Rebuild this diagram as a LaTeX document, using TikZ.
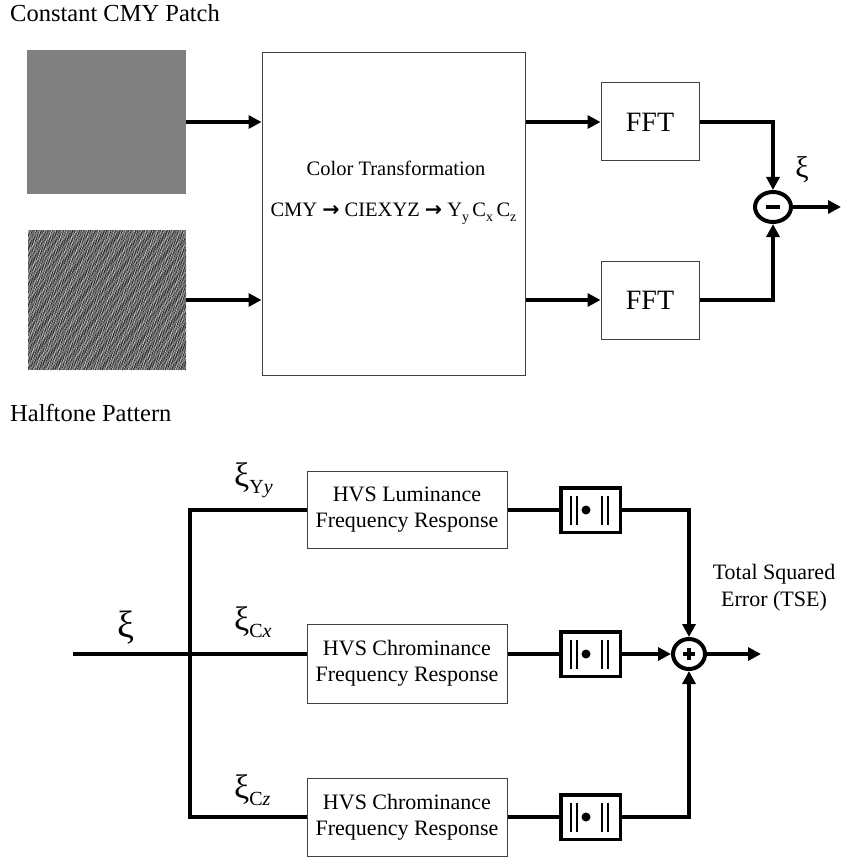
\documentclass[tikz,border=0pt]{standalone}
\usepackage{fontspec}
\setmainfont{Liberation Serif}
\newfontfamily\arrfont{DejaVu Sans}
\usetikzlibrary{arrows.meta,shapes.geometric}
\newcommand{\myfs}[1]{\fontsize{#1}{#1}\selectfont}
\newcommand{\mysub}[1]{\raisebox{-7pt}{\myfs{20}#1}}
\newcommand{\smsub}[1]{\raisebox{-5pt}{\myfs{14}#1}}
\definecolor{patchgray}{RGB}{128,128,128}
\definecolor{halfgray}{RGB}{120,120,120}
\tikzset{
  thickline/.style={line width=4pt, line join=miter},
  arr/.style={line width=4pt, line join=miter, -{Triangle[length=13pt,width=13pt]}},
  thinbox/.style={draw=black!75, line width=1pt, inner sep=0pt, align=center},
  hvsbox/.style={thinbox, minimum width=200pt, font=\fontsize{22}{26}\selectfont},
  normbox/.style={draw, line width=3.5pt, minimum width=59.5pt, minimum height=44.5pt, inner sep=0pt},
  sumnode/.style={ellipse, draw, line width=4pt, inner sep=0pt},
  lbl/.style={inner sep=0pt},
}
\begin{document}
\begin{tikzpicture}[x=1pt,y=-1pt]
\useasboundingbox (0,0) rectangle (845,861);

% ---------- top part ----------
\node[lbl, anchor=base west] (title1) at (10,22) {\myfs{24.5}Constant CMY Patch};
\node[lbl, anchor=base west] (title2) at (10,421) {\myfs{24.5}Halftone Pattern};

\node[fill=patchgray, minimum width=159pt, minimum height=144pt, inner sep=0pt] (patch) at (106.5,122) {};
\node[fill=halfgray, minimum width=158pt, minimum height=140pt, inner sep=0pt] (half) at (107,300) {};
\begin{scope}
  \clip (28,230) rectangle (186,370);
  \foreach \i in {0,...,110} {
    \draw[black!85, line width=0.7pt, dash pattern=on 3pt off 1.5pt on 1.5pt off 2pt on 5pt off 2pt, dash phase=\i*1.7pt]
      (-16+\i*1.8,230) -- ++(36,140);
    \draw[white!70!gray, line width=0.5pt, dash pattern=on 2pt off 3pt on 1pt off 4pt on 3pt off 2pt, dash phase=\i*2.3pt]
      (-15.1+\i*1.8,230) -- ++(36,140);
  }
\end{scope}

\node[thinbox, minimum width=263pt, minimum height=322pt] (ct) at (393.5,214) {};
\node[lbl] (ct1) at (396,168) {\myfs{20.5}Color Transformation};
\node[lbl] (ct2) at (393.5,214) {\myfs{20.5}CMY {\arrfont\bfseries →} CIEXYZ {\arrfont\bfseries →} Y\smsub{y}\,C\smsub{x}\,C\smsub{z}};

\node[thinbox, minimum width=98pt, minimum height=78pt] (fft1) at (650,122) {\myfs{28}FFT};
\node[thinbox, minimum width=98pt, minimum height=78pt] (fft2) at (650,300) {\myfs{28}FFT};

\draw[arr] (patch.east) -- (ct.west |- patch.east);
\draw[arr] (half.east) -- (ct.west |- half.east);
\draw[arr] (ct.east |- fft1.west) -- (fft1.west);
\draw[arr] (ct.east |- fft2.west) -- (fft2.west);

\node[sumnode, minimum width=36pt, minimum height=30pt] (minus) at (773,207) {};
\draw[line width=4pt] ([xshift=-7pt]minus.center) -- ([xshift=7pt]minus.center);
\draw[arr] (fft1.east) -| (minus.north);
\draw[arr] (fft2.east) -| (minus.south);
\coordinate (xiout) at (841,207);
\draw[arr] (minus.east) -- (xiout);
\node[lbl] (xi1) at (802,170) {\myfs{30}ξ};

% ---------- bottom part ----------
\coordinate (in) at (73,654);
\coordinate (jt) at (190,510);
\coordinate (jb) at (190,817);

\node[hvsbox, minimum height=77pt] (hvs1) at (407,510) {HVS Luminance\\Frequency Response};
\node[hvsbox, minimum height=79pt] (hvs2) at (407,663.5) {HVS Chrominance\\Frequency Response};
\node[hvsbox, minimum height=78pt] (hvs3) at (407,817) {HVS Chrominance\\Frequency Response};

\draw[thickline] (in) -- (hvs2.west |- in);
\draw[thickline] (hvs1.west) -- (jt) -- (jb) -- (hvs3.west);

\node[lbl] (xi2) at (126,628) {\myfs{38}ξ};
\node[lbl, anchor=west] (xiy) at (234,480) {\myfs{34}ξ\mysub{Y\textit{y}}};
\node[lbl, anchor=west] (xix) at (234,622) {\myfs{34}ξ\mysub{C\textit{x}}};
\node[lbl, anchor=west] (xiz) at (234,790) {\myfs{34}ξ\mysub{C\textit{z}}};

\node[normbox] (n1) at (590.5,510) {};
\node[normbox] (n2) at (590.5,654) {};
\node[normbox] (n3) at (590.5,817) {};
\foreach \n in {n1,n2,n3} {
  \fill ([xshift=-4.5pt]\n.center) circle (4.5pt);
  \foreach \dx in {-19.5,-13.5,11.5,17.5}
    \draw[line width=2pt] ([xshift=\dx pt, yshift=14pt]\n.center) -- ([xshift=\dx pt, yshift=-15pt]\n.center);
}

\draw[thickline] (hvs1.east) -- (n1.west);
\draw[thickline] (hvs2.east |- n2.west) -- (n2.west);
\draw[thickline] (hvs3.east) -- (n3.west);

\node[sumnode, minimum width=32pt, minimum height=30pt] (plus) at (689,654) {};
\draw[line width=3.5pt] ([xshift=-6pt]plus.center) -- ([xshift=6pt]plus.center);
\draw[line width=3.5pt] ([yshift=-6pt]plus.center) -- ([yshift=6pt]plus.center);

\draw[arr] (n1.east) -| (plus.north);
\draw[arr] (n2.east) -- (plus.west);
\draw[arr] (n3.east) -| (plus.south);
\coordinate (tseout) at (761,654);
\draw[arr] (plus.east) -- (tseout);

\node[lbl, align=center, font=\fontsize{22}{27}\selectfont] (tse) at (774,588) {Total Squared\\Error (TSE)};
\end{tikzpicture}
\end{document}
